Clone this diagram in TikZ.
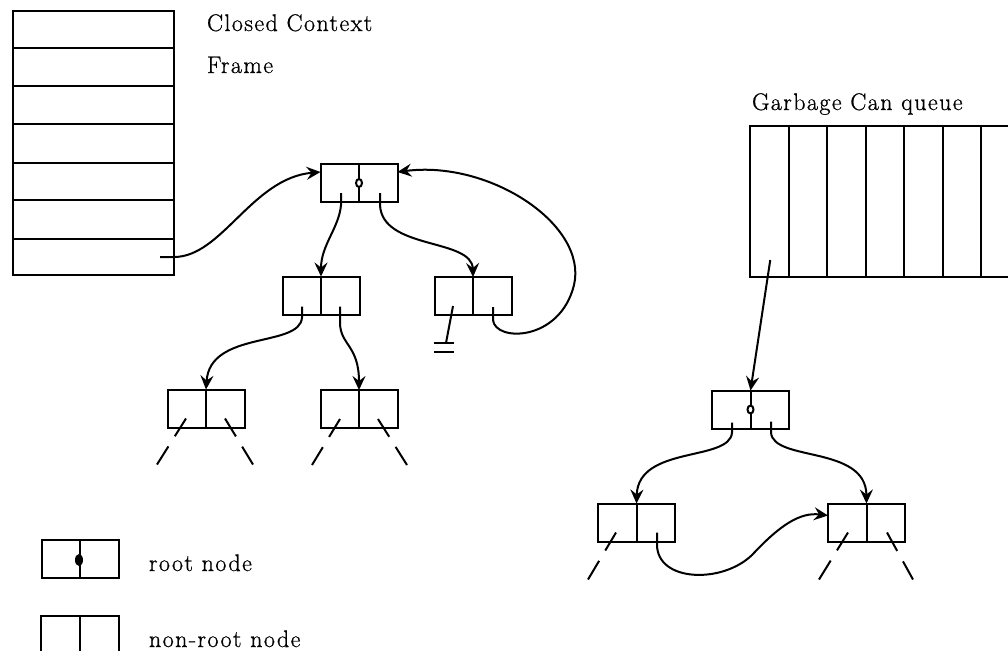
\documentclass[tikz,border=0pt]{standalone}
\usepackage{fontspec}
\newfontfamily\labfont{Latin Modern Roman}[LetterSpace=6,FakeBold=0.8]
\usetikzlibrary{arrows.meta,calc}
\begin{document}
\begin{tikzpicture}[x=1pt,y=-1pt,line width=2pt,
  cell/.style={draw, minimum width=77pt, minimum height=38pt, inner sep=0pt, outer sep=0pt,
    path picture={\draw[line width=2pt] (path picture bounding box.north) -- (path picture bounding box.south);}},
  fcell/.style={draw, minimum width=161pt, inner sep=0pt, outer sep=0pt},
  qcell/.style={draw, minimum width=38.5pt, minimum height=151pt, inner sep=0pt, outer sep=0pt},
  ptr/.style={-{Stealth[length=14pt,width=13pt,inset=5pt]}},
  stub/.style={dash pattern=on 21pt off 12pt on 40pt},
  rootring/.style={line width=2pt, fill=white},
  lab/.style={font=\labfont\fontsize{24}{28}\selectfont, inner sep=0pt, anchor=base west}]
\useasboundingbox (0,0) rectangle (1008,651);

% Closed context frame
\node[fcell, minimum height=37pt] (f1) at (93.5,29.5) {};
\node[fcell, minimum height=38pt] (f2) at (93.5,67) {};
\node[fcell, minimum height=38pt] (f3) at (93.5,105) {};
\node[fcell, minimum height=39pt] (f4) at (93.5,143.5) {};
\node[fcell, minimum height=37pt] (f5) at (93.5,181.5) {};
\node[fcell, minimum height=39pt] (f6) at (93.5,219.5) {};
\node[fcell, minimum height=36pt] (f7) at (93.5,257) {};
\node[lab] (t1) at (206,31) {Closed Context};
\node[lab] (t2) at (206,73) {Frame};

% left tree
\node[cell] (R1) at (359,183) {};
\node[cell] (A) at (321,295.5) {};
\node[cell] (B) at (473,296) {};
\node[cell] (C) at (206,408.5) {};
\node[cell] (D) at (359,409) {};
\draw[rootring] (R1.center) ellipse[x radius=3pt, y radius=4pt];

% garbage can queue
\node[lab] (t3) at (751,110) {Garbage Can queue};
\node[qcell] (q1) at (769.25,201.5) {};
\node[qcell] (q2) at (807.75,201.5) {};
\node[qcell] (q3) at (846.25,201.5) {};
\node[qcell] (q4) at (884.75,201.5) {};
\node[qcell] (q5) at (923.25,201.5) {};
\node[qcell] (q6) at (961.75,201.5) {};
\coordinate (qtop) at (1008,126);
\coordinate (qbot) at (1008,277);
\draw (q6.north east) -- (qtop);
\draw (q6.south east) -- (qbot);

% right tree
\node[cell] (RR) at (750.5,409.5) {};
\node[cell] (E) at (636.5,522.5) {};
\node[cell] (F) at (866.5,522.5) {};
\draw[rootring] (RR.center) ellipse[x radius=3pt, y radius=4pt];

% legend
\node[cell] (LR) at (80,559) {};
\fill ([shift={(-1,1)}]LR.center) ellipse[x radius=4pt, y radius=6pt];
\node[lab] (t4) at (148,571) {root node};
\node[minimum width=78pt, minimum height=35pt, inner sep=0pt, outer sep=0pt] (LN) at (80,633.5) {};
\draw (LN.south west) -- (LN.north west) -- (LN.north east) -- (LN.south east);
\draw (LN.north) -- (LN.south);
\node[lab] (t5) at (148,647) {non-root node};

% connectors, left
\draw[ptr] ([shift={(-14,0)}]f7.east) -- (f7.east) .. controls (222,257) and (252,178) .. ([shift={(0,8)}]R1.north west);
\draw[ptr] ([shift={(-18,-9)}]R1.south) -- ++(0,12) .. controls (339,228) and (321,245) .. (A.north);
\draw[ptr] ([shift={(21,-9)}]R1.south) -- ++(0,12) .. controls (382,250) and (472,238) .. (B.north);
\draw[ptr] ([shift={(20,-8)}]B.south) -- ++(0,13) .. controls (495,342) and (560,342) .. (574,285) .. controls (588,225) and (490,160) .. ([shift={(0,8)}]R1.north east);
\coordinate (gnd) at (446,343);
\draw ([shift={(-20,-9)}]B.south) -- (gnd);
\draw ([shift={(-12,0)}]gnd) -- ++(20,0);
\draw ([shift={(-12,9)}]gnd) -- ++(20,0);
\draw[ptr] ([shift={(-19,-8)}]A.south) -- ++(0,11) .. controls (300,348) and (210,330) .. (C.north);
\draw[ptr] ([shift={(19,-8)}]A.south) -- ++(0,16) .. controls (340,345) and (359,345) .. (D.north);
\draw[stub] ([shift={(-20,-9)}]C.south) -- ++(-29,46);
\draw[stub] ([shift={(19,-9)}]C.south) -- ++(28,46);
\draw[stub] ([shift={(-19,-9)}]D.south) -- ++(-28,46);
\draw[stub] ([shift={(19,-9)}]D.south) -- ++(29,46);

% connectors, right
\draw[ptr] ([shift={(1,-17)}]q1.south) -- (RR.north);
\draw[ptr] ([shift={(-18.5,-6)}]RR.south) -- ++(0,10) .. controls (730,462) and (638,445) .. (E.north);
\draw[ptr] ([shift={(20.5,-7)}]RR.south) -- ++(0,11) .. controls (773,462) and (866,445) .. (F.north);
\draw[ptr] ([shift={(20.5,-9)}]E.south) -- ++(0,12) .. controls (657,582) and (722,584) .. (752,555) .. controls (780,525) and (800,512) .. ([shift={(0,12)}]F.north west);
\draw[stub] ([shift={(-20.5,-9)}]E.south) -- ++(-28,47);
\draw[stub] ([shift={(-18.5,-9)}]F.south) -- ++(-29,47);
\draw[stub] ([shift={(20.5,-9)}]F.south) -- ++(26,47);
\end{tikzpicture}
\end{document}
